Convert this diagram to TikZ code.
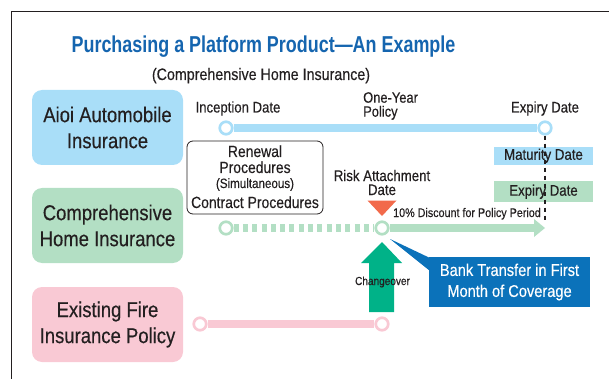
\documentclass[tikz,border=0pt]{standalone}
\usepackage{fontspec}
\setmainfont{Liberation Sans}
\newfontfamily\cf[FakeStretch=0.86,FakeBold=0.35]{Liberation Sans}
\newfontfamily\tf[FakeStretch=0.78]{Liberation Sans}
\usetikzlibrary{calc}
\definecolor{ttl}{HTML}{1565AF}
\definecolor{txt}{HTML}{231F20}
\definecolor{lblue}{HTML}{A9DEF8}
\definecolor{lgreen}{HTML}{B3DFC4}
\definecolor{lpink}{HTML}{F9C9D4}
\definecolor{tri}{HTML}{F26A4B}
\definecolor{garrow}{HTML}{00B288}
\definecolor{cblue}{HTML}{0B72BA}
\tikzset{
  every node/.style={inner sep=0pt, text=txt},
  catbox/.style={rounded corners=10pt, minimum width=151pt, minimum height=75pt, align=center,
    font=\cf\fontsize{21.5}{26}\selectfont},
  dot/.style={circle, fill=white, line width=2.7pt, minimum size=12.5pt},
  lbl/.style={font=\cf\fontsize{15.3}{14}\selectfont},
  tagbox/.style={minimum width=99pt, font=\cf\fontsize{15.4}{15}\selectfont},
  tline/.style={line width=7.5pt}
}
\begin{document}
\begin{tikzpicture}[x=1pt,y=-1pt]
\useasboundingbox (0,0) rectangle (609,379);
% frame
\draw[line width=1pt, txt] (11,379) -- (11,12) -- (609,12);
% titles
\node[anchor=base, text=ttl, font=\tf\bfseries\fontsize{23}{23}\selectfont] (title) at (263.5,53) {Purchasing a Platform Product—An Example};
\node[anchor=base, font=\cf\fontsize{16.6}{16}\selectfont] (subtitle) at (261,80) {(Comprehensive Home Insurance)};
% category boxes
\node[catbox, fill=lblue] (auto) at (107.5,127.5) {Aioi Automobile\\Insurance};
\node[catbox, fill=lgreen] (home) at (107.5,225.5) {Comprehensive\\Home Insurance};
\node[catbox, fill=lpink] (fire) at (107.5,324.5) {Existing Fire\\Insurance Policy};
% tag boxes
\node[tagbox, fill=lblue, minimum height=18.3pt] (mat) at (543.5,155.8) {Maturity Date};
\node[tagbox, fill=lgreen, minimum height=21.3pt] (exp2) at (543.5,191.7) {Expiry Date};
% timeline dots
\node[dot, draw=lblue] (a1) at (226,128) {};
\node[dot, draw=lblue] (a2) at (545,128) {};
\node[dot, draw=lgreen] (g1) at (226,228) {};
\node[dot, draw=lgreen] (g2) at (382,228) {};
\node[dot, draw=lpink] (p1) at (200,324) {};
\node[dot, draw=lpink] (p2) at (382,324) {};
\coordinate (gend) at (535,228);
\coordinate (dend) at (545,223);
% timelines
\draw[tline, lblue] (a1) -- (a2);
\draw[tline, lgreen, dash pattern=on 5pt off 4.3pt] (g1) -- (g2);
\draw[tline, lgreen] (g2) -- (gend);
\fill[lgreen] ($(gend)+(-1,-9)$) -- ++(11,9) -- ++(-11,9) -- cycle;
\draw[tline, lpink] (p1) -- (p2);
% dashed vertical
\draw[txt, line width=1.6pt, dash pattern=on 4pt off 4pt] (a2.south) -- (dend);
% labels
\node[lbl, anchor=base] (incep) at (238,112.5) {Inception Date};
\node[lbl, anchor=base] (expd) at (545,112.5) {Expiry Date};
\node[lbl, anchor=west, align=left, font=\cf\fontsize{15}{14}\selectfont] (oneyr) at (363,106) {One-Year\\Policy};
\node[lbl, align=center, font=\cf\fontsize{15.4}{14}\selectfont] (risk) at (382,182.5) {Risk Attachment\\Date};
\node[anchor=base west, font=\cf\fontsize{12.5}{12}\selectfont] (disc) at (393,217) {10\% Discount for Policy Period};
% renewal box
\node[draw=txt, line width=0.8pt, rounded corners=6pt, minimum width=136pt, minimum height=73pt] (renew) at (255,177.5) {};
\node[anchor=base, font=\cf\fontsize{16.2}{16}\selectfont] (r1) at (255,157) {Renewal};
\node[anchor=base, font=\cf\fontsize{16.2}{16}\selectfont] (r2) at (255,173) {Procedures};
\node[anchor=base, font=\cf\fontsize{13.5}{13}\selectfont] (r3) at (255,188) {(Simultaneous)};
\node[anchor=base, font=\cf\fontsize{16.2}{16}\selectfont] (r4) at (255,208) {Contract Procedures};
% red triangle
\fill[tri] (367.5,200.5) -- (396.5,200.5) -- (382,216) -- cycle;
% changeover arrow
\fill[garrow] (369,312) -- (369,263) -- (361,263) -- (382,242) -- (402,263) -- (394,263) -- (394,312) -- cycle;
\node[font=\cf\fontsize{11.7}{12}\selectfont] (chg) at (382.5,282) {Changeover};
% callout
\fill[cblue] (390,239) -- (430,258) -- (430,271) -- cycle;
\node[fill=cblue, text=white, minimum width=161pt, minimum height=50pt, align=center,
  font=\cf\fontsize{17}{21}\selectfont] (bank) at (509.5,282) {Bank Transfer in First\\Month of Coverage};
\end{tikzpicture}
\end{document}
